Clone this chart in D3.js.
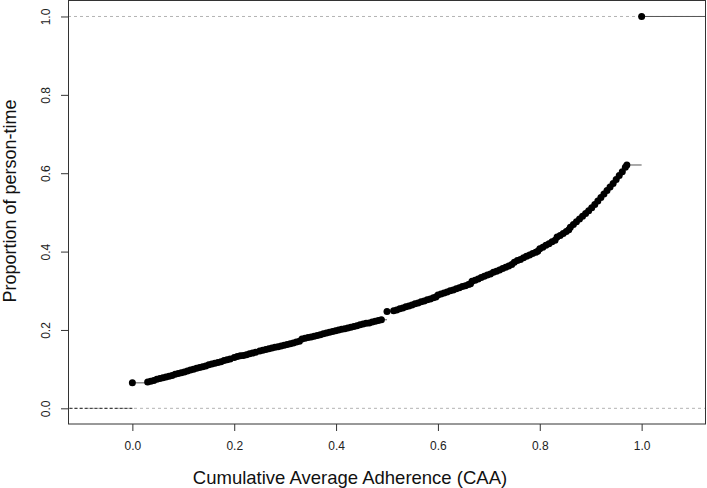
<!DOCTYPE html>
<html><head><meta charset="utf-8">
<script src="https://cdn.jsdelivr.net/npm/d3@7"></script>
<style>body{margin:0;background:#fff}svg{display:block}text{font-family:"Liberation Sans",Arial,sans-serif}</style>
</head><body>
<div id="chart"></div>
<script>
// Knot positions (CAA) and ECDF-style values (proportion of person-time)
const caa = [
 0.000,
 0.030,0.036,0.042,0.048,0.054,0.060,0.066,0.072,0.078,0.084,0.090,0.096,0.102,0.108,0.114,0.120,0.126,0.132,0.138,0.144,0.150,0.156,0.162,0.168,0.174,0.180,0.186,0.192,
 0.200,0.206,0.212,0.218,0.224,0.230,0.236,0.242,
 0.250,0.256,0.262,0.268,0.274,0.280,0.286,0.292,0.298,0.304,0.310,0.316,0.322,0.328,
 0.333,0.339,0.345,0.351,0.357,0.363,0.369,0.375,0.381,0.387,0.393,0.399,0.405,0.411,0.417,0.423,0.429,0.435,0.441,0.447,0.453,0.459,0.465,0.471,0.477,0.483,0.489,
 0.500,
 0.513,0.519,0.525,0.531,0.537,0.543,0.549,0.555,0.561,0.567,0.573,0.579,0.585,0.591,0.596,
 0.600,0.606,0.612,0.618,0.624,0.630,0.636,0.642,0.648,0.654,0.660,0.664,
 0.667,0.673,0.679,0.685,0.691,0.697,0.703,0.709,0.715,0.721,0.727,0.733,0.739,0.745,
 0.750,0.756,0.762,0.768,0.774,0.780,0.786,0.792,0.796,
 0.800,0.806,0.812,0.818,0.824,0.830,
 0.834,0.840,0.846,0.852,0.857,
 0.860,0.866,0.872,0.878,0.884,0.890,0.896,0.902,0.908,0.914,0.920,0.926,0.932,0.938,0.944,0.950,0.956,0.962,0.968,0.971,
 1.000
];
const proportion = [
 0.065,
 0.067,0.069,0.071,0.074,0.076,0.078,0.080,0.082,0.084,0.087,0.089,0.091,0.093,0.095,0.098,0.100,0.102,0.104,0.106,0.108,0.111,0.113,0.115,0.117,0.119,0.122,0.124,0.126,
 0.130,0.132,0.134,0.135,0.137,0.139,0.141,0.143,
 0.146,0.148,0.150,0.152,0.154,0.156,0.157,0.159,0.161,0.163,0.165,0.167,0.169,0.171,
 0.177,0.179,0.181,0.182,0.184,0.186,0.188,0.190,0.192,0.194,0.196,0.198,0.200,0.202,0.203,0.205,0.207,0.209,0.211,0.213,0.215,0.217,0.218,0.220,0.222,0.224,0.226,
 0.247,
 0.249,0.251,0.254,0.256,0.259,0.261,0.264,0.267,0.269,0.272,0.274,0.277,0.279,0.282,0.284,
 0.289,0.292,0.294,0.297,0.300,0.302,0.305,0.308,0.311,0.313,0.316,0.318,
 0.324,0.327,0.330,0.334,0.337,0.340,0.343,0.347,0.350,0.353,0.357,0.360,0.363,0.367,
 0.373,0.377,0.380,0.384,0.388,0.391,0.395,0.398,0.401,
 0.407,0.411,0.416,0.420,0.425,0.429,
 0.437,0.441,0.446,0.451,0.456,
 0.462,0.469,0.476,0.483,0.490,0.497,0.504,0.512,0.520,0.529,0.538,0.547,0.556,0.565,0.574,0.584,0.594,0.604,0.615,0.621,
 1.000
];
const xTicks = [0,0.2,0.4,0.6,0.8,1.0];
const yTicks = [0,0.2,0.4,0.6,0.8,1.0];
const refLines = [0,1];
const xLabel = "Cumulative Average Adherence (CAA)";
const yLabel = "Proportion of person-time";

const W = 707, H = 488;
const L = 68, R = 706, T = 0.5, B = 424;
const svg = d3.select("#chart").append("svg").attr("width",W).attr("height",H);
const x = d3.scaleLinear().domain([-0.1264,1.1264]).range([L,R]);
const y = d3.scaleLinear().domain([-0.04,1.04]).range([B,T+0.3]);

const data = caa.map((c,i)=>({x:c,y:proportion[i]}));

svg.append("defs").append("clipPath").attr("id","clip")
  .append("rect").attr("x",L).attr("y",T).attr("width",R-L).attr("height",B-T);
const g = svg.append("g").attr("clip-path","url(#clip)");

// reference dashed lines
g.selectAll("line.ref").data(refLines).enter().append("line")
  .attr("x1",L).attr("x2",R).attr("y1",d=>y(d)).attr("y2",d=>y(d))
  .attr("stroke","#b3b3b3").attr("stroke-width",1).attr("stroke-dasharray","3,3");

// step segments
const steps = [];
steps.push({x1:-0.3,x2:data[0].x,y:0,left:true});
for(let i=0;i<data.length;i++){
  const nx = i<data.length-1 ? data[i+1].x : 1.3;
  steps.push({x1:data[i].x,x2:nx,y:data[i].y});
}
g.selectAll("line.step").data(steps).enter().append("line")
  .attr("x1",d=>x(d.x1)).attr("x2",d=>x(d.x2)).attr("y1",d=>y(d.y)).attr("y2",d=>y(d.y))
  .attr("stroke",d=>d.left?"#222":"#555").attr("stroke-width",1)
  .attr("stroke-dasharray",d=>d.left?"3,2":null);

// points
g.selectAll("circle").data(data).enter().append("circle")
  .attr("cx",d=>x(d.x)).attr("cy",d=>y(d.y)).attr("r",3.5).attr("fill","#000");

// box
svg.append("rect").attr("x",L+0.5).attr("y",T).attr("width",R-L-1).attr("height",B-T)
  .attr("fill","none").attr("stroke","#333").attr("stroke-width",1);

// x axis
const xa = svg.append("g").attr("transform",`translate(0,${B})`)
  .call(d3.axisBottom(x).tickValues(xTicks).tickFormat(d3.format(".1f")).tickSize(7).tickPadding(10));
xa.select(".domain").remove();
xa.selectAll("line").attr("stroke","#333");
xa.selectAll("text").attr("font-size",12).attr("fill","#222").attr("font-family","Liberation Sans, Arial, sans-serif");

// y axis
const ya = svg.append("g").attr("transform",`translate(${L},0)`)
  .call(d3.axisLeft(y).tickValues(yTicks).tickFormat(d3.format(".1f")).tickSize(7).tickPadding(6));
ya.select(".domain").remove();
ya.selectAll("line").attr("stroke","#333");
ya.selectAll("text").attr("font-size",12).attr("fill","#222").attr("font-family","Liberation Sans, Arial, sans-serif")
  .attr("x",-22).attr("y",0).attr("dy","0.35em").attr("text-anchor","middle")
  .attr("transform","rotate(-90,-22,0)");

// titles
svg.append("text").attr("x",350).attr("y",484).attr("text-anchor","middle")
  .attr("font-size",18.5).attr("fill","#111").text(xLabel);
svg.append("text").attr("transform",`translate(16,201) rotate(-90)`)
  .attr("text-anchor","middle").attr("font-size",18).attr("fill","#111").text(yLabel);
</script>
</body></html>
